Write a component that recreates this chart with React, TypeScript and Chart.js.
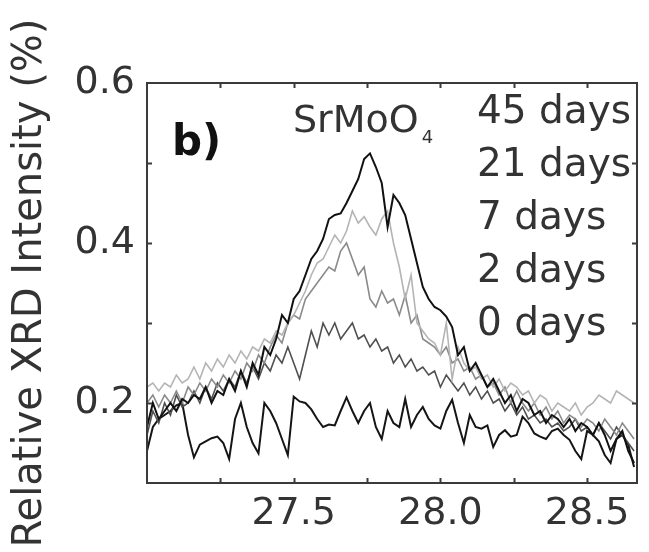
import { useEffect, useRef } from 'react';
import { Chart, registerables } from 'chart.js';

Chart.register(...registerables);

// 2-theta (degrees)
const TWO_THETA = [
  27.00, 27.02, 27.04, 27.06, 27.08, 27.10, 27.12, 27.14, 27.16, 27.18,
  27.20, 27.22, 27.24, 27.26, 27.28, 27.30, 27.32, 27.34, 27.36, 27.38,
  27.40, 27.42, 27.44, 27.46, 27.48, 27.50, 27.52, 27.54, 27.56, 27.58,
  27.60, 27.62, 27.64, 27.66, 27.68, 27.70, 27.72, 27.74, 27.76, 27.78,
  27.80, 27.82, 27.84, 27.86, 27.88, 27.90, 27.92, 27.94, 27.96, 27.98,
  28.00, 28.02, 28.04, 28.06, 28.08, 28.10, 28.12, 28.14, 28.16, 28.18,
  28.20, 28.22, 28.24, 28.26, 28.28, 28.30, 28.32, 28.34, 28.36, 28.38,
  28.40, 28.42, 28.44, 28.46, 28.48, 28.50, 28.52, 28.54, 28.56, 28.58,
  28.60, 28.62, 28.64, 28.66,
];

const DAYS_45 = [
  0.17, 0.20, 0.18, 0.19, 0.20, 0.19, 0.205, 0.20, 0.21, 0.205,
  0.22, 0.20, 0.215, 0.21, 0.23, 0.215, 0.24, 0.22, 0.25, 0.235,
  0.27, 0.26, 0.28, 0.31, 0.30, 0.33, 0.34, 0.36, 0.38, 0.39,
  0.405, 0.43, 0.435, 0.437, 0.45, 0.465, 0.48, 0.505, 0.512, 0.495,
  0.475, 0.42, 0.46, 0.45, 0.435, 0.405, 0.375, 0.345, 0.33, 0.32,
  0.316, 0.308, 0.295, 0.26, 0.27, 0.24, 0.25, 0.235, 0.22, 0.23,
  0.215, 0.20, 0.21, 0.19, 0.205, 0.20, 0.185, 0.19, 0.175, 0.185,
  0.18, 0.17, 0.18, 0.165, 0.175, 0.17, 0.16, 0.175, 0.16, 0.14,
  0.155, 0.165, 0.14, 0.125,
];

const DAYS_21 = [
  0.22, 0.225, 0.215, 0.225, 0.22, 0.235, 0.225, 0.23, 0.245, 0.23,
  0.25, 0.24, 0.255, 0.245, 0.26, 0.25, 0.265, 0.255, 0.27, 0.265,
  0.28, 0.275, 0.29, 0.285, 0.30, 0.31, 0.325, 0.34, 0.36, 0.375,
  0.38, 0.395, 0.41, 0.40, 0.415, 0.44, 0.425, 0.433, 0.42, 0.41,
  0.43, 0.44, 0.40, 0.37, 0.33, 0.36, 0.30, 0.29, 0.28, 0.275,
  0.26, 0.30, 0.23, 0.27, 0.25, 0.24, 0.245, 0.23, 0.235, 0.22,
  0.23, 0.215, 0.225, 0.22, 0.21, 0.215, 0.20, 0.21, 0.205, 0.19,
  0.20, 0.195, 0.19, 0.20, 0.185, 0.195, 0.20, 0.21, 0.205, 0.20,
  0.215, 0.21, 0.205, 0.20,
];

const DAYS_7 = [
  0.20, 0.21, 0.195, 0.21, 0.20, 0.215, 0.20, 0.22, 0.21, 0.225,
  0.215, 0.23, 0.22, 0.235, 0.225, 0.24, 0.23, 0.25, 0.24, 0.26,
  0.25, 0.27, 0.285, 0.275, 0.30, 0.31, 0.305, 0.33, 0.34, 0.35,
  0.36, 0.37, 0.365, 0.39, 0.40, 0.38, 0.36, 0.37, 0.33, 0.32,
  0.34, 0.325, 0.33, 0.31, 0.335, 0.30, 0.31, 0.28, 0.275, 0.27,
  0.26, 0.27, 0.25, 0.255, 0.24, 0.245, 0.23, 0.235, 0.22, 0.225,
  0.21, 0.22, 0.20, 0.215, 0.20, 0.19, 0.20, 0.185, 0.195, 0.18,
  0.19, 0.175, 0.185, 0.18, 0.17, 0.18, 0.175, 0.165, 0.18, 0.17,
  0.16, 0.175, 0.165, 0.155,
];

const DAYS_2 = [
  0.16, 0.19, 0.175, 0.20, 0.185, 0.21, 0.195, 0.20, 0.215, 0.20,
  0.22, 0.205, 0.225, 0.215, 0.23, 0.22, 0.24, 0.225, 0.245, 0.23,
  0.25, 0.24, 0.26, 0.25, 0.27, 0.25, 0.23, 0.26, 0.29, 0.27,
  0.30, 0.285, 0.30, 0.28, 0.29, 0.30, 0.28, 0.285, 0.27, 0.28,
  0.265, 0.27, 0.25, 0.26, 0.245, 0.255, 0.24, 0.245, 0.235, 0.24,
  0.22, 0.235, 0.225, 0.215, 0.225, 0.21, 0.22, 0.205, 0.215, 0.20,
  0.205, 0.19, 0.20, 0.185, 0.195, 0.18, 0.185, 0.175, 0.18, 0.17,
  0.175, 0.165, 0.17, 0.18, 0.165, 0.17, 0.16, 0.175, 0.165, 0.155,
  0.17, 0.16, 0.15, 0.14,
];

const DAYS_0 = [
  0.14, 0.17, 0.18, 0.185, 0.19, 0.197, 0.20, 0.16, 0.132, 0.148,
  0.152, 0.156, 0.158, 0.15, 0.13, 0.18, 0.20, 0.17, 0.15, 0.137,
  0.20, 0.19, 0.175, 0.155, 0.135, 0.208, 0.202, 0.20, 0.192, 0.18,
  0.17, 0.173, 0.172, 0.19, 0.207, 0.19, 0.175, 0.19, 0.20, 0.17,
  0.155, 0.19, 0.175, 0.17, 0.205, 0.17, 0.185, 0.195, 0.18, 0.172,
  0.168, 0.19, 0.204, 0.175, 0.15, 0.185, 0.17, 0.168, 0.172, 0.145,
  0.16, 0.166, 0.158, 0.16, 0.183, 0.175, 0.162, 0.158, 0.155, 0.165,
  0.168, 0.16, 0.154, 0.14, 0.13, 0.165, 0.16, 0.152, 0.135, 0.125,
  0.155, 0.16, 0.148, 0.12,
];

const SERIES_LABELS = ['45 days', '21 days', '7 days', '2 days', '0 days'];
const SERIES_DATA = [DAYS_45, DAYS_21, DAYS_7, DAYS_2, DAYS_0];
const SERIES_COLORS = ['#111111', '#b4b4b4', '#8a8a8a', '#505050', '#151515'];
const SERIES_WIDTHS = [2, 1.6, 1.6, 1.6, 2];

const X_TICKS = [27.0, 27.25, 27.5, 27.75, 28.0, 28.25, 28.5];
const X_TICK_LABELS = [27.5, 28.0, 28.5];
const Y_TICKS = [0.1, 0.2, 0.3, 0.4, 0.5, 0.6];
const Y_TICK_LABELS = [0.2, 0.4, 0.6];

const FONT = '"DejaVu Sans", Verdana, sans-serif';

const framePlugin = {
  id: 'frameAndNotes',
  afterDatasetsDraw(chart: any) {
    const { ctx, chartArea: a, scales } = chart;
    const xs = scales.x;
    const ys = scales.y;
    ctx.save();
    ctx.strokeStyle = '#3a3a3a';
    ctx.lineWidth = 2;
    ctx.strokeRect(a.left, a.top, a.right - a.left, a.bottom - a.top);
    ctx.beginPath();
    const tl = 5;
    for (const v of X_TICKS) {
      const px = Math.round(xs.getPixelForValue(v)) + 0.5;
      if (px <= a.left + 2 || px >= a.right - 2) continue;
      ctx.moveTo(px, a.bottom);
      ctx.lineTo(px, a.bottom - tl);
      ctx.moveTo(px, a.top);
      ctx.lineTo(px, a.top + tl);
    }
    for (const v of Y_TICKS) {
      const py = Math.round(ys.getPixelForValue(v)) + 0.5;
      if (py <= a.top + 2 || py >= a.bottom - 2) continue;
      ctx.moveTo(a.left, py);
      ctx.lineTo(a.left + tl, py);
      ctx.moveTo(a.right, py);
      ctx.lineTo(a.right - tl, py);
    }
    ctx.stroke();

    // annotations
    ctx.textBaseline = 'alphabetic';
    ctx.textAlign = 'left';
    ctx.fillStyle = '#111';
    ctx.font = `bold 42px ${FONT}`;
    ctx.fillText('b)', a.left + 25, a.top + 72);

    ctx.fillStyle = '#333';
    ctx.font = `38px ${FONT}`;
    const sx = a.left + 146;
    const sy = a.top + 49;
    ctx.fillText('SrMoO', sx, sy);
    const w = ctx.measureText('SrMoO').width;
    ctx.font = `18px ${FONT}`;
    ctx.fillText('4', sx + w + 3, sy + 11);

    ctx.font = `39px ${FONT}`;
    SERIES_LABELS.forEach((t, i) => {
      ctx.fillText(t, a.left + 330, a.top + 40 + i * 53);
    });
    ctx.restore();
  },
};

export default function App() {
  const ref = useRef<HTMLCanvasElement | null>(null);
  useEffect(() => {
    if (!ref.current) return;
    const chart = new Chart(ref.current, {
      type: 'line',
      data: {
        datasets: SERIES_LABELS.map((label, k) => ({
          label,
          data: TWO_THETA.map((x, i) => ({ x, y: SERIES_DATA[k][i] })),
          borderColor: SERIES_COLORS[k],
          borderWidth: SERIES_WIDTHS[k],
          pointRadius: 0,
          tension: 0,
          fill: false,
        })),
      },
      options: {
        animation: false,
        responsive: false,
        layout: { padding: { top: 83, right: 12, left: 0, bottom: 0 } },
        plugins: { legend: { display: false }, tooltip: { enabled: false } },
        scales: {
          x: {
            type: 'linear',
            min: 27.0,
            max: 28.67,
            border: { display: false },
            grid: { display: false, drawTicks: false },
            afterFit: (s: any) => { s.height = 69; },
            afterBuildTicks: (s: any) => { s.ticks = X_TICKS.map((value) => ({ value })); },
            ticks: {
              autoSkip: false,
              maxRotation: 0,
              padding: 8,
              color: '#333',
              font: { family: FONT, size: 38 },
              callback: (v: any) => {
                const n = Number(v);
                return X_TICK_LABELS.some((t) => Math.abs(t - n) < 1e-6) ? n.toFixed(1) : '';
              },
            },
          },
          y: {
            type: 'linear',
            min: 0.1,
            max: 0.6,
            border: { display: false },
            grid: { display: false, drawTicks: false },
            afterFit: (s: any) => { s.width = 147; },
            afterBuildTicks: (s: any) => { s.ticks = Y_TICKS.map((value) => ({ value })); },
            title: {
              display: true,
              text: 'Relative XRD Intensity (%)',
              color: '#333',
              font: { family: FONT, size: 40 },
              padding: { top: 7, bottom: 0 },
            },
            ticks: {
              autoSkip: false,
              padding: 12,
              color: '#333',
              font: { family: FONT, size: 38 },
              callback: (v: any) => {
                const n = Number(v);
                return Y_TICK_LABELS.some((t) => Math.abs(t - n) < 1e-6) ? n.toFixed(1) : '';
              },
            },
          },
        },
      },
      plugins: [framePlugin],
    });
    return () => chart.destroy();
  }, []);
  return (
    <div style={{ position: 'absolute', left: 0, top: 0, width: 649, height: 552, background: '#fff' }}>
      <canvas ref={ref} width={649} height={552} />
    </div>
  );
}
